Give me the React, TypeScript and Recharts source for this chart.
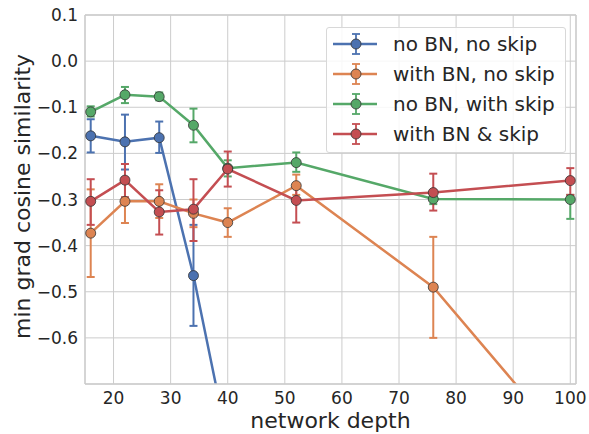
import { CartesianGrid, ErrorBar, Legend, Line, LineChart, ReferenceLine, XAxis, YAxis } from "recharts";

const depths = [16, 22, 28, 34, 40, 52, 76, 100];

// mean / lower / upper per depth (null = not shown)
const noBnNoSkip = [-0.162, -0.175, -0.166, -0.465, -0.827, null, null, null];
const noBnNoSkipLo = [-0.198, -0.235, -0.199, -0.574, null, null, null, null];
const noBnNoSkipHi = [-0.126, -0.116, -0.131, -0.355, null, null, null, null];

const bnNoSkip = [-0.373, -0.304, -0.304, -0.33, -0.35, -0.27, -0.49, -0.84];
const bnNoSkipLo = [-0.468, -0.351, -0.34, -0.36, -0.381, -0.29, -0.6, null];
const bnNoSkipHi = [-0.278, -0.257, -0.267, -0.3, -0.319, -0.246, -0.381, null];

const noBnSkip = [-0.11, -0.073, -0.077, -0.139, -0.232, -0.22, -0.299, -0.3];
const noBnSkipLo = [-0.12, -0.091, -0.085, -0.176, -0.25, -0.24, -0.31, -0.342];
const noBnSkipHi = [-0.098, -0.056, -0.068, -0.103, -0.215, -0.198, -0.29, -0.29];

const bnSkip = [-0.304, -0.258, -0.327, -0.321, -0.234, -0.302, -0.285, -0.259];
const bnSkipLo = [-0.355, -0.295, -0.376, -0.39, -0.272, -0.35, -0.324, -0.29];
const bnSkipHi = [-0.256, -0.223, -0.28, -0.256, -0.196, -0.27, -0.244, -0.232];

const xTicks = [20, 30, 40, 50, 60, 70, 80, 90, 100];
const yTicks = [0.1, 0.0, -0.1, -0.2, -0.3, -0.4, -0.5, -0.6];

const SERIES = [
  { key: "a", name: "no BN, no skip", color: "#4C72B0", mean: noBnNoSkip, lo: noBnNoSkipLo, hi: noBnNoSkipHi },
  { key: "b", name: "with BN, no skip", color: "#DD8452", mean: bnNoSkip, lo: bnNoSkipLo, hi: bnNoSkipHi },
  { key: "c", name: "no BN, with skip", color: "#55A868", mean: noBnSkip, lo: noBnSkipLo, hi: noBnSkipHi },
  { key: "d", name: "with BN & skip", color: "#C44E52", mean: bnSkip, lo: bnSkipLo, hi: bnSkipHi },
];

const data = depths.map((depth, i) => {
  const row: Record<string, any> = { depth };
  SERIES.forEach((s) => {
    const m = s.mean[i];
    row[s.key] = m;
    const lo = s.lo[i];
    const hi = s.hi[i];
    if (m != null && lo != null && hi != null) {
      row[s.key + "Err"] = [m - lo, hi - m];
    }
  });
  return row;
});

const TEXT = "#262626";
const GRID = "#cccccc";
const FONT = "'DejaVu Sans', sans-serif";

const fmt = (v: number) => (v < -1e-9 ? "\u2212" : "") + Math.abs(v).toFixed(1);

const LegendBox = () => (
  <div
    style={{
      width: 238,
      height: 124,
      background: "rgba(255,255,255,0.85)",
      border: "1px solid #d8d8d8",
      borderRadius: 3,
      fontFamily: FONT,
      fontSize: 20,
      color: TEXT,
      position: "relative",
    }}
  >
    {SERIES.map((s, i) => (
      <div key={s.key} style={{ position: "absolute", left: 0, top: 3 + i * 30, height: 26, display: "flex", alignItems: "center" }}>
        <svg width={60} height={26} style={{ display: "block" }}>
          <line x1={6} y1={13} x2={50} y2={13} stroke={s.color} strokeWidth={2.5} />
          <line x1={29} y1={3} x2={29} y2={23} stroke={s.color} strokeWidth={1.8} />
          <line x1={25} y1={3} x2={33} y2={3} stroke={s.color} strokeWidth={1.8} />
          <line x1={25} y1={23} x2={33} y2={23} stroke={s.color} strokeWidth={1.8} />
          <circle cx={29} cy={13} r={5} fill={s.color} stroke="#333" strokeWidth={0.8} />
        </svg>
        <span style={{ marginLeft: 6, whiteSpace: "nowrap", lineHeight: "26px" }}>{s.name}</span>
      </div>
    ))}
  </div>
);

export default function App() {
  return (
    <div style={{ position: "absolute", left: 0, top: 0, width: 589, height: 434, background: "#fff" }}>
      <LineChart width={589} height={434} data={data} margin={{ top: 15, right: 13, bottom: 0, left: 0 }}>
        <CartesianGrid stroke={GRID} strokeWidth={1} />
        <XAxis
          dataKey="depth"
          type="number"
          domain={[15, 101]}
          ticks={xTicks}
          allowDataOverflow
          height={50}
          tickLine={false}
          tickSize={0}
          tickMargin={8}
          axisLine={{ stroke: GRID, strokeWidth: 1.3 }}
          tick={{ fill: TEXT, fontSize: 17, fontFamily: FONT }}
          label={(props: any) => {
            const vb = props.viewBox;
            return (
              <text x={vb.x + vb.width / 2} y={vb.y + 44} textAnchor="middle" fill={TEXT} fontSize={22} fontFamily={FONT}>
                network depth
              </text>
            );
          }}
        />
        <YAxis
          type="number"
          domain={[-0.7, 0.1]}
          ticks={yTicks}
          allowDataOverflow
          width={85}
          tickLine={false}
          tickSize={0}
          tickMargin={7}
          tickFormatter={fmt}
          axisLine={{ stroke: GRID, strokeWidth: 1.3 }}
          tick={{ fill: TEXT, fontSize: 17, fontFamily: FONT }}
          label={(props: any) => {
            const vb = props.viewBox;
            const cx = vb.x + 22;
            const cy = vb.y + vb.height / 2 - 3;
            return (
              <text x={cx} y={cy} transform={`rotate(-90 ${cx} ${cy})`} textAnchor="middle" dominantBaseline="central" fill={TEXT} fontSize={22} fontFamily={FONT}>
                min grad cosine similarity
              </text>
            );
          }}
        />
        <ReferenceLine x={101} stroke={GRID} strokeWidth={1.3} />
        <ReferenceLine y={0.1} stroke={GRID} strokeWidth={1.3} />
        {SERIES.map((s) => (
          <Line
            key={s.key}
            dataKey={s.key}
            name={s.name}
            type="linear"
            stroke={s.color}
            strokeWidth={2.5}
            dot={{ r: 5, fill: s.color, stroke: "#333", strokeWidth: 0.8, fillOpacity: 1 }}
            activeDot={false}
            isAnimationActive={false}
          >
            <ErrorBar dataKey={s.key + "Err"} direction="y" width={4} stroke={s.color} strokeWidth={2} isAnimationActive={false} />
          </Line>
        ))}
        <Legend
          layout="vertical"
          align="center"
          verticalAlign="middle"
          content={() => <LegendBox />}
          wrapperStyle={{ position: "absolute", left: 326, top: 27, width: 240, height: 126 }}
        />
      </LineChart>
    </div>
  );
}
